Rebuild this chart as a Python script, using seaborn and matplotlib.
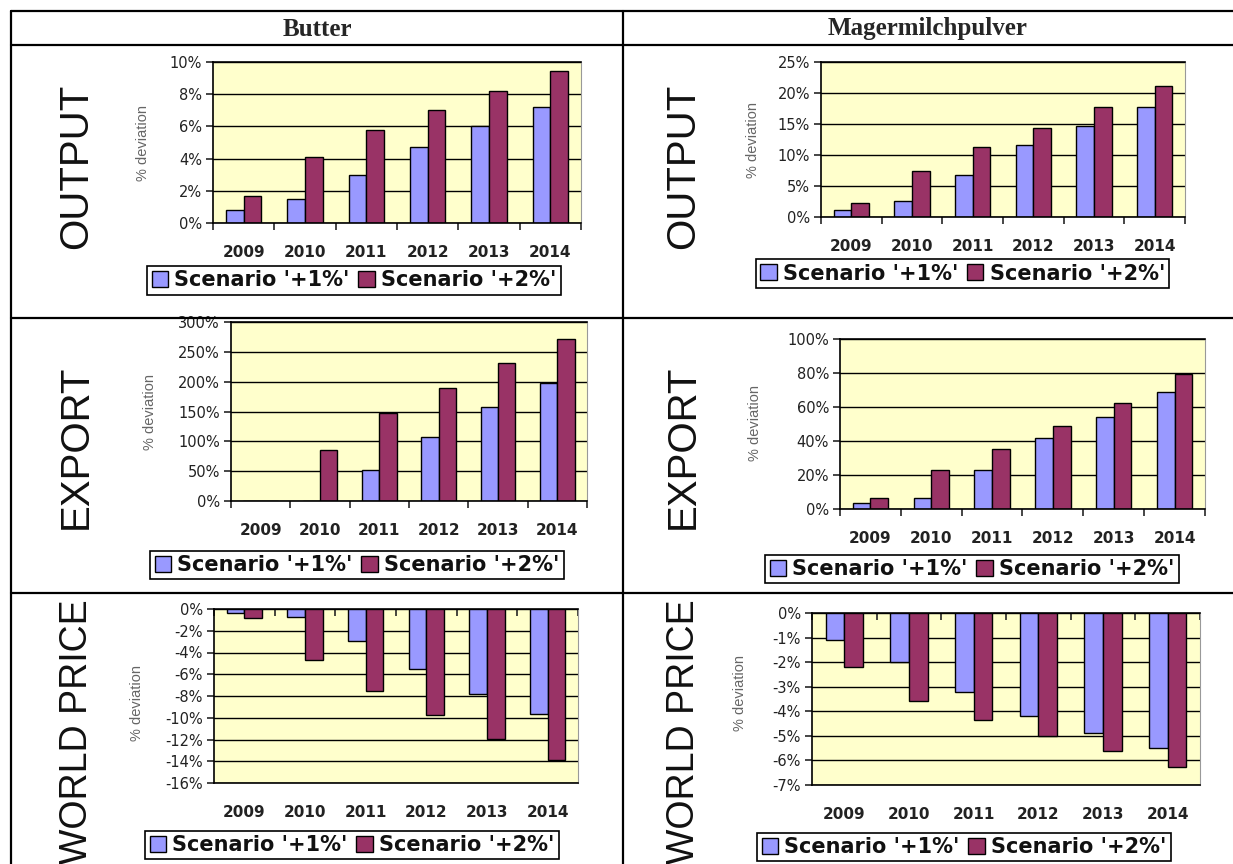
import numpy as np
import pandas as pd
import seaborn as sns
import matplotlib.pyplot as plt
from matplotlib.lines import Line2D
from matplotlib.patches import Patch
from matplotlib.ticker import FuncFormatter, MultipleLocator

years = ['2009', '2010', '2011', '2012', '2013', '2014']
scenarios = ["Scenario '+1%'", "Scenario '+2%'"]
products = ['Butter', 'Magermilchpulver']
rows = ['OUTPUT', 'EXPORT', 'WORLD PRICE']

butter_output_1 = [0.8, 1.5, 3.0, 4.7, 6.0, 7.2]
butter_output_2 = [1.65, 4.1, 5.75, 7.0, 8.2, 9.45]
smp_output_1 = [1.2, 2.6, 6.8, 11.6, 14.7, 17.8]
smp_output_2 = [2.3, 7.5, 11.3, 14.4, 17.8, 21.2]
butter_export_1 = [0, 0, 52, 108, 157, 198]
butter_export_2 = [0, 85, 147, 190, 231, 271]
smp_export_1 = [3.7, 6.3, 22.7, 41.6, 54, 69]
smp_export_2 = [6.7, 22.9, 35.1, 48.8, 62.2, 79.2]
butter_price_1 = [-0.35, -0.75, -2.9, -5.5, -7.8, -9.7]
butter_price_2 = [-0.85, -4.7, -7.5, -9.75, -11.95, -13.9]
smp_price_1 = [-1.1, -2.0, -3.2, -4.2, -4.9, -5.5]
smp_price_2 = [-2.2, -3.6, -4.35, -5.0, -5.6, -6.25]

colors = ['#9999FF', '#993366']
W, H = 1233, 864

sns.set_theme(style='white')
plt.rcParams['font.family'] = ['Liberation Sans', 'DejaVu Sans']

fig = plt.figure(figsize=(W / 100, H / 100), dpi=100)


def fx(px):
    return px / W


def fy(py):
    return 1 - py / H


def ftext(px, py, s, **kw):
    fig.text(fx(px), fy(py), s, **kw)


# table frame
for y in [11, 45, 318, 593]:
    fig.add_artist(Line2D([fx(11), 1], [fy(y), fy(y)], color='black', lw=1.6))
for x in [11, 623]:
    fig.add_artist(Line2D([fx(x), fx(x)], [fy(11), 0], color='black', lw=1.6))

ftext(317, 29, products[0], ha='center', va='center', fontsize=18,
      fontweight='bold', family='Liberation Serif')
ftext(928, 29, products[1], ha='center', va='center', fontsize=18,
      fontweight='bold', family='Liberation Serif')

for cx in [76, 683]:
    ftext(cx, 166, rows[0], rotation=90, ha='center', va='center', fontsize=29, color='#111')
    ftext(cx, 447, rows[1], rotation=90, ha='center', va='center', fontsize=29, color='#111')
    ftext(cx + 1, 599, rows[2], rotation=90, ha='center', va='top', fontsize=27, color='#111')

charts = [
    # values1, values2, axes rect (l, t, r, b), ylim, step, legend rect, ylabel pos
    (butter_output_1, butter_output_2, (213, 62, 581, 223), (0, 10), 2, (143, 266, 565, 295), (143, 143)),
    (smp_output_1, smp_output_2, (821, 62, 1185, 217), (0, 25), 5, (753, 259, 1172, 288), (753, 140)),
    (butter_export_1, butter_export_2, (231, 322, 587, 501), (0, 300), 50, (147, 548, 567, 582), (150, 412)),
    (smp_export_1, smp_export_2, (840, 339, 1205, 509), (0, 100), 20, (753, 553, 1191, 585), (755, 423)),
    (butter_price_1, butter_price_2, (214, 609, 578, 783), (-16, 0), 2, (147, 828, 557, 862), (137, 703)),
    (smp_price_1, smp_price_2, (812, 613, 1200, 785), (-7, 0), 1, (743, 831, 1185, 863), (740, 693)),
]

for v1, v2, (l, t, r, b), ylim, step, (ll, lt, lr, lb), (yx, yy) in charts:
    ax = fig.add_axes([fx(l), fy(b), (r - l) / W, (b - t) / H])
    df = pd.DataFrame({
        'year': years * 2,
        'scenario': [scenarios[0]] * 6 + [scenarios[1]] * 6,
        'value': list(v1) + list(v2),
    })
    sns.barplot(data=df, x='year', y='value', hue='scenario', palette=colors,
                width=0.58, saturation=1, edgecolor='black', linewidth=1,
                ax=ax, legend=False, errorbar=None)
    ax.set_facecolor('#FFFFCC')
    ax.set_xlim(-0.5, 5.5)
    ax.set_ylim(*ylim)
    ax.yaxis.set_major_locator(MultipleLocator(step))
    ax.yaxis.set_major_formatter(FuncFormatter(lambda v, p: f'{v:.0f}%'))
    ax.yaxis.grid(True, color='black', lw=1)
    ax.set_axisbelow(True)
    ax.set_xlabel('')
    ax.set_ylabel('')
    for s in ['left', 'top', 'bottom']:
        ax.spines[s].set_color('black')
        ax.spines[s].set_linewidth(1.2)
    ax.spines['right'].set_color('#999999')
    ax.spines['right'].set_linewidth(0.8)
    ax.tick_params(axis='y', left=True, direction='out', length=5, width=1.2,
                   pad=3, labelsize=10.5, labelcolor='#222')
    ax.set_xticks(np.arange(-0.5, 6, 1), minor=True)
    ax.tick_params(axis='x', which='major', length=0, pad=16, labelsize=11,
                   labelcolor='#222')
    for lab in ax.get_yticklabels():
        lab.set_family('DejaVu Sans')
    for lab in ax.get_xticklabels():
        lab.set_family('DejaVu Sans')
        lab.set_fontweight('bold')
    if ylim[1] > 0:
        ax.tick_params(axis='x', which='minor', bottom=True, direction='out',
                       length=5, width=1.2)
    else:
        ax.tick_params(axis='x', which='minor', bottom=False, top=True,
                       direction='in', length=5, width=1.2)
    ftext(yx, yy, '% deviation', rotation=90, ha='center', va='center',
          fontsize=10.5, color='#666')
    handles = [Patch(facecolor=c, edgecolor='black', lw=1) for c in colors]
    leg = fig.legend(handles, scenarios, loc='center',
                     bbox_to_anchor=(fx((ll + lr) / 2), fy((lt + lb) / 2)),
                     ncol=2, frameon=True, fancybox=False,
                     prop={'family': 'DejaVu Sans', 'weight': 'bold', 'size': 15},
                     framealpha=1, edgecolor='black', handlelength=0.8,
                     handleheight=0.8, handletextpad=0.3, columnspacing=0.4,
                     borderpad=0.2, borderaxespad=0)
    leg.get_frame().set_linewidth(1.2)
    for txt in leg.get_texts():
        txt.set_color('#111')

fig.savefig('out.png', dpi=100)
